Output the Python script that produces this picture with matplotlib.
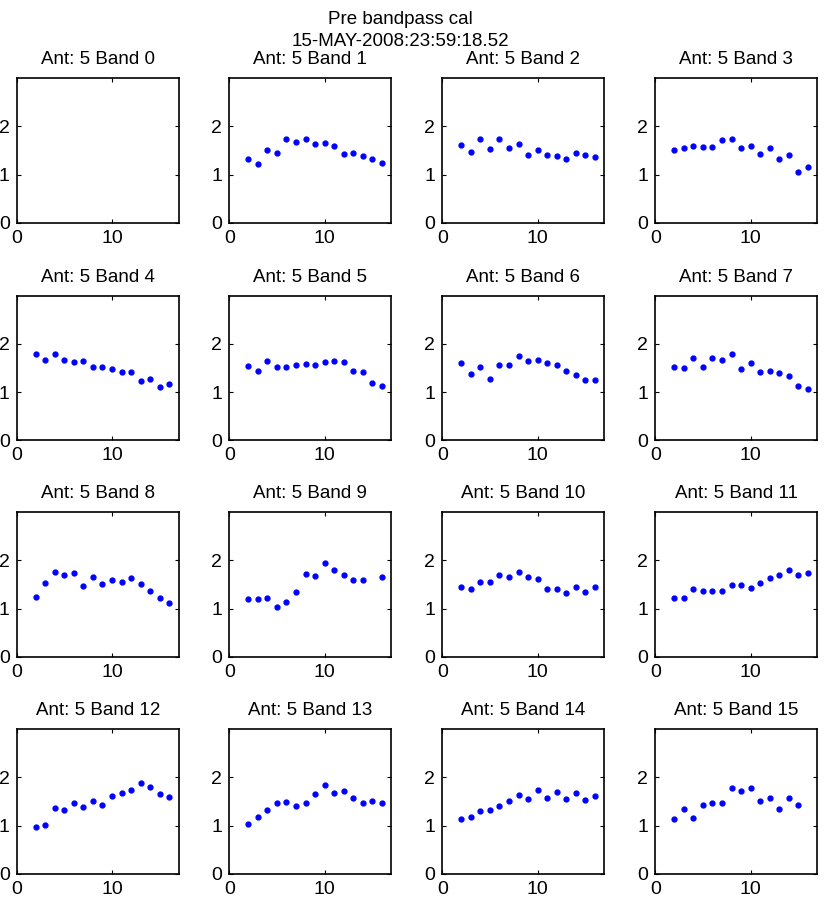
import numpy as np
import matplotlib.pyplot as plt

plt.rcParams['font.family'] = ['Liberation Sans', 'DejaVu Sans']

chan = np.arange(2, 17)
nan = np.nan

band0 = [nan] * 15
band1 = [1.32, 1.23, 1.51, 1.44, 1.73, 1.68, 1.75, 1.63, 1.65, 1.59, 1.42, 1.45, 1.38, 1.33, 1.24]
band2 = [1.62, 1.46, 1.73, 1.54, 1.75, 1.56, 1.64, 1.40, 1.51, 1.40, 1.38, 1.33, 1.44, 1.40, 1.36]
band3 = [1.51, 1.56, 1.60, 1.58, 1.57, 1.72, 1.73, 1.55, 1.60, 1.43, 1.55, 1.33, 1.41, 1.06, 1.16]
band4 = [1.78, 1.67, 1.78, 1.66, 1.63, 1.65, 1.52, 1.51, 1.47, 1.41, 1.41, 1.22, 1.27, 1.11, 1.17]
band5 = [1.55, 1.44, 1.64, 1.53, 1.53, 1.56, 1.58, 1.57, 1.63, 1.65, 1.63, 1.43, 1.42, 1.18, 1.13]
band6 = [1.60, 1.38, 1.51, 1.27, 1.57, 1.57, 1.75, 1.65, 1.67, 1.60, 1.56, 1.43, 1.36, 1.25, 1.25]
band7 = [1.51, 1.49, 1.71, 1.51, 1.71, 1.66, 1.79, 1.48, 1.60, 1.42, 1.43, 1.39, 1.33, 1.13, 1.07]
band8 = [1.24, 1.53, 1.77, 1.69, 1.74, 1.47, 1.66, 1.51, 1.60, 1.56, 1.64, 1.51, 1.36, 1.22, 1.12]
band9 = [1.19, 1.19, 1.22, 1.04, 1.14, 1.34, 1.71, 1.68, 1.95, 1.80, 1.70, 1.60, 1.60, nan, 1.66]
band10 = [1.45, 1.40, 1.55, 1.56, 1.69, 1.66, 1.76, 1.65, 1.62, 1.40, 1.40, 1.32, 1.45, 1.35, 1.45]
band11 = [1.23, 1.22, 1.40, 1.36, 1.36, 1.36, 1.50, 1.49, 1.43, 1.53, 1.64, 1.69, 1.81, 1.70, 1.75]
band12 = [0.97, 1.02, 1.37, 1.32, 1.48, 1.38, 1.51, 1.43, 1.62, 1.67, 1.73, 1.88, 1.80, 1.65, 1.60]
band13 = [1.04, 1.18, 1.32, 1.46, 1.50, 1.41, 1.47, 1.66, 1.85, 1.67, 1.72, 1.57, 1.47, 1.52, 1.46]
band14 = [1.13, 1.17, 1.30, 1.32, 1.40, 1.52, 1.63, 1.56, 1.74, 1.57, 1.69, 1.56, 1.67, 1.53, 1.62]
band15 = [1.13, 1.34, 1.16, 1.42, 1.46, 1.46, 1.78, 1.72, 1.78, 1.52, 1.57, 1.34, 1.58, 1.43, nan]

bands = [band0, band1, band2, band3, band4, band5, band6, band7,
         band8, band9, band10, band11, band12, band13, band14, band15]

W, H = 830, 898
fig = plt.figure(figsize=(W / 100, H / 100), dpi=100)

lefts = [16.7, 229.3, 442.3, 655.3]
tops = [78.3, 295.7, 512.3, 729.3]
aw, ah = 162, 144.5

for i, b in enumerate(bands):
    r, c = divmod(i, 4)
    ax = fig.add_axes([lefts[c] / W, 1 - (tops[r] + ah) / H, aw / W, ah / H])
    ax.plot(chan, b, '.', color='#0000ff', markersize=7)
    ax.set_xlim(0, 17)
    ax.set_ylim(0, 3)
    ax.set_xticks([0, 10])
    ax.set_yticks([0, 1, 2])
    ax.tick_params(direction='in', top=True, right=True, length=3, width=0.8,
                   labelsize=14)
    ax.tick_params(axis='x', pad=5)
    ax.tick_params(axis='y', pad=5)
    for s in ax.spines.values():
        s.set_linewidth(1.2)
    ax.set_title('Ant: 5 Band %d' % i, fontsize=13.5, pad=10)

fig.text(400 / W, 1 - 20 / H, 'Pre bandpass cal', ha='center', va='center', fontsize=13.5)
fig.text(400 / W, 1 - 42 / H, '15-MAY-2008:23:59:18.52', ha='center', va='center', fontsize=13.5)

plt.savefig('out.png', dpi=100)
